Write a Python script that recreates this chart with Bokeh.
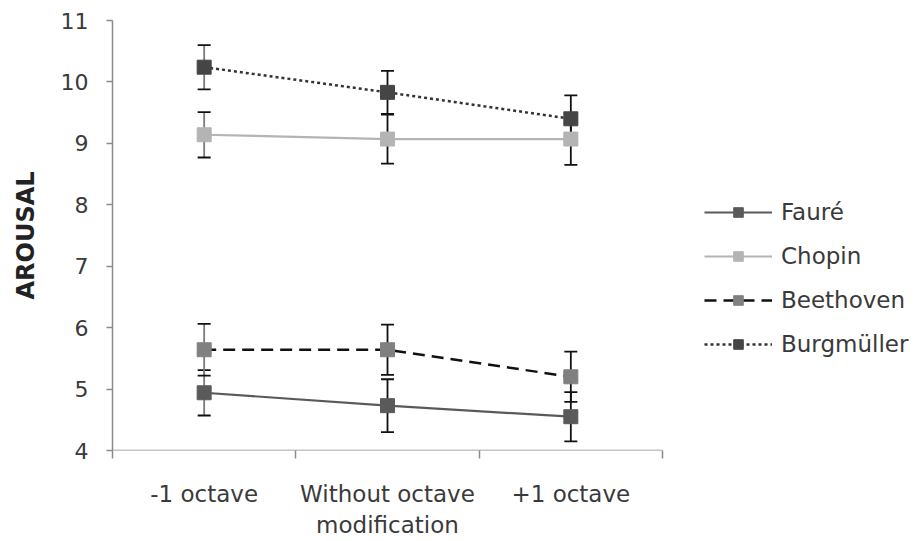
from bokeh.plotting import figure
from bokeh.models import (ColumnDataSource, Whisker, TeeHead, Legend, LegendItem,
                          FixedTicker, Range1d)
from bokeh.embed import file_html
from bokeh.resources import INLINE

categories = ["-1 octave", "Without octave\nmodification", "+1 octave"]
series_names = ["Fauré", "Chopin", "Beethoven", "Burgmüller"]
faure = [4.94, 4.73, 4.55]
faure_err = [0.37, 0.43, 0.40]
chopin = [9.14, 9.07, 9.07]
chopin_err = [0.37, 0.40, 0.42]
beethoven = [5.64, 5.64, 5.20]
beethoven_err = [0.42, 0.41, 0.41]
burgmuller = [10.24, 9.83, 9.40]
burgmuller_err = [0.36, 0.35, 0.38]
y_ticks = [4, 5, 6, 7, 8, 9, 10, 11]

FONT = "DejaVu Sans"
n = len(categories)
xs = [i + 0.5 for i in range(n)]

W, H = 912, 540
LEFT, RIGHT, TOP, BOTTOM = 112, 2, 20, 88
AXIS_PX = 550                       # pixel length of the category axis
frame_w = W - LEFT - RIGHT
x_end = n * frame_w / AXIS_PX       # frame extends right to hold the legend

p = figure(width=W, height=H, output_backend="svg", toolbar_location=None,
           x_range=Range1d(0, x_end), y_range=Range1d(y_ticks[0], y_ticks[-1]),
           min_border_left=LEFT, min_border_right=RIGHT, min_border_top=TOP,
           min_border_bottom=BOTTOM)
p.outline_line_color = None
p.grid.grid_line_color = None
p.background_fill_color = "white"

axis_color = "#8a8a8a"
# x axis line only across the categories
p.segment(x0=[0], y0=[y_ticks[0]], x1=[n], y1=[y_ticks[0]],
          line_color=axis_color, line_width=1.5)

p.xaxis.ticker = FixedTicker(ticks=xs, minor_ticks=list(range(n + 1)))
p.xaxis.major_label_overrides = {x: c for x, c in zip(xs, categories)}
p.xaxis.major_tick_line_color = None
p.xaxis.major_tick_out = 8
p.xaxis.major_tick_in = 0
p.xaxis.minor_tick_out = 8
p.xaxis.minor_tick_in = 0
p.xaxis.minor_tick_line_color = axis_color
p.xaxis.minor_tick_line_width = 1.5
p.xaxis.axis_line_color = None
p.xaxis.major_label_standoff = 22
p.xaxis.major_label_text_font = FONT
p.xaxis.major_label_text_font_size = "23px"
p.xaxis.major_label_text_color = "#3a3a3a"

p.yaxis.ticker = FixedTicker(ticks=y_ticks)
p.yaxis.major_tick_out = 6
p.yaxis.major_tick_in = 0
p.yaxis.major_tick_line_color = axis_color
p.yaxis.major_tick_line_width = 1.5
p.yaxis.minor_tick_line_color = None
p.yaxis.axis_line_color = axis_color
p.yaxis.axis_line_width = 1.5
p.yaxis.major_label_standoff = 18
p.yaxis.major_label_text_font = FONT
p.yaxis.major_label_text_font_size = "22px"
p.yaxis.major_label_text_color = "#3a3a3a"
p.yaxis.axis_label = "AROUSAL"
p.yaxis.axis_label_text_font = FONT
p.yaxis.axis_label_text_font_style = "bold"
p.yaxis.axis_label_text_font_size = "24px"
p.yaxis.axis_label_text_color = "#222222"
p.yaxis.axis_label_standoff = 18

series = [
    ("Fauré", faure, faure_err, dict(line_color="#5a5a5a", line_width=2.2), "#5a5a5a"),
    ("Chopin", chopin, chopin_err, dict(line_color="#b4b4b4", line_width=2.2), "#b4b4b4"),
    ("Beethoven", beethoven, beethoven_err,
     dict(line_color="#111111", line_width=2.5, line_dash="12 7"), "#808080"),
    ("Burgmüller", burgmuller, burgmuller_err,
     dict(line_color="#333333", line_width=2.5, line_dash="3 3"), "#454545"),
]

items = []
for name, vals, errs, lstyle, mcolor in series:
    src = ColumnDataSource(dict(
        x=xs, y=vals,
        upper=[v + e for v, e in zip(vals, errs)],
        lower=[v - e for v, e in zip(vals, errs)],
        stem=["#7a7a7a"] + ["#111111"] * (len(vals) - 1),
    ))
    ln = p.line("x", "y", source=src, **lstyle)
    wk = Whisker(base="x", upper="upper", lower="lower", source=src,
                 dimension="height", line_color="stem", line_width=1.8,
                 upper_head=TeeHead(size=13, line_color="#111111", line_width=1.8),
                 lower_head=TeeHead(size=13, line_color="#111111", line_width=1.8))
    p.add_layout(wk)
    sc = p.scatter("x", "y", source=src, marker="square", size=14,
                   fill_color=mcolor, line_color=mcolor)
    items.append(LegendItem(label=name, renderers=[ln, sc]))

legend = Legend(items=items, location=(592, 93), orientation="vertical",
                glyph_width=68, glyph_height=24, label_standoff=9,
                spacing=18, padding=0, margin=0,
                label_text_font=FONT, label_text_font_size="23px",
                label_text_color="#3a3a3a", border_line_color=None,
                background_fill_alpha=0)
p.add_layout(legend, "center")

open("out.html", "w").write(file_html(p, INLINE))
